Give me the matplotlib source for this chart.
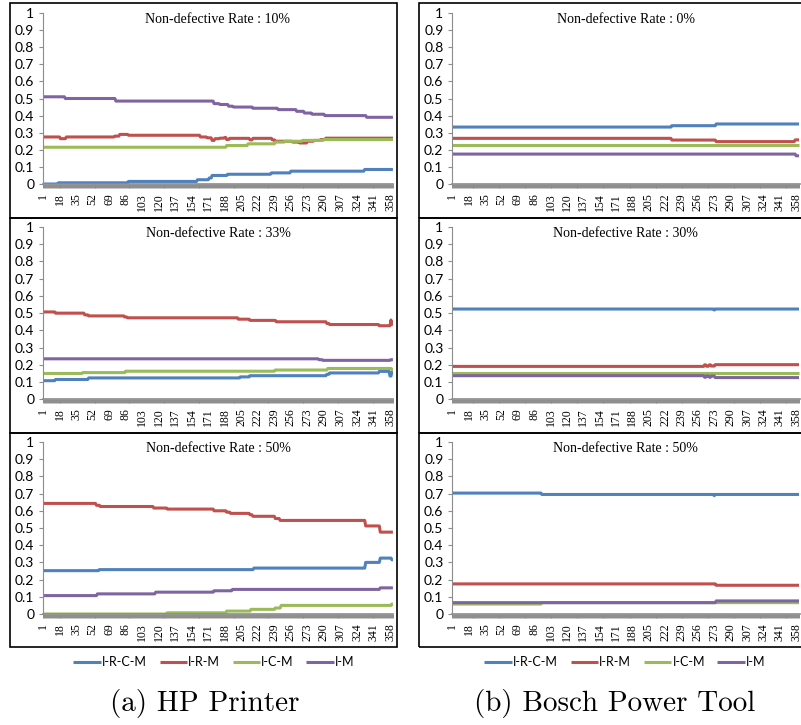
import numpy as np
import matplotlib
matplotlib.use("Agg")
import matplotlib.pyplot as plt
from matplotlib.patches import Rectangle

# ---------------------------------------------------------------------------
# Data: step series given as (start category, value) pairs
# ---------------------------------------------------------------------------
N_CAT = 361
SERIES = ["I-R-C-M", "I-R-M", "I-C-M", "I-M"]
COLORS = ["#4F81BD", "#C0504D", "#9BBB59", "#8064A2"]

# (a) HP Printer, non-defective rate 10%
hp10_rcm_x = [1, 17, 89, 160, 172, 175, 191, 236, 256, 332]
hp10_rcm_y = [0.0, 0.007, 0.015, 0.025, 0.035, 0.05, 0.057, 0.065, 0.075, 0.085]
hp10_rm_x = [1, 19, 25, 75, 80, 89, 163, 170, 175, 178, 183, 188, 190, 193, 214, 217, 237, 240, 258, 265, 273, 280, 287, 292]
hp10_rm_y = [0.275, 0.265, 0.275, 0.28, 0.29, 0.285, 0.275, 0.27, 0.255, 0.265, 0.268, 0.272, 0.26, 0.267,
             0.258, 0.267, 0.258, 0.25, 0.245, 0.24, 0.25, 0.255, 0.26, 0.268]
hp10_cm_x = [1, 190, 212, 240, 250, 268, 290]
hp10_cm_y = [0.215, 0.225, 0.235, 0.245, 0.25, 0.255, 0.26]
hp10_m_x = [1, 24, 76, 177, 183, 192, 197, 217, 243, 262, 270, 278, 291, 334]
hp10_m_y = [0.51, 0.50, 0.485, 0.47, 0.465, 0.455, 0.45, 0.443, 0.435, 0.425, 0.415, 0.408, 0.40, 0.39]

# (a) HP Printer, non-defective rate 33%
hp33_rcm_x = [1, 14, 48, 204, 214, 293, 296, 347, 358, 360]
hp33_rcm_y = [0.108, 0.115, 0.124, 0.13, 0.137, 0.145, 0.153, 0.162, 0.135, 0.16]
hp33_rm_x = [1, 14, 44, 48, 85, 88, 202, 214, 241, 293, 296, 347, 359, 360]
hp33_rm_y = [0.507, 0.50, 0.49, 0.484, 0.478, 0.473, 0.465, 0.458, 0.45, 0.44, 0.434, 0.427, 0.46, 0.435]
hp33_cm_x = [1, 42, 86, 240, 294, 360]
hp33_cm_y = [0.15, 0.155, 0.163, 0.17, 0.179, 0.172]
hp33_m_x = [1, 285, 289, 359]
hp33_m_y = [0.235, 0.23, 0.226, 0.23]

# (a) HP Printer, non-defective rate 50%
hp50_rcm_x = [1, 59, 218, 333, 348, 360]
hp50_rcm_y = [0.252, 0.258, 0.267, 0.30, 0.325, 0.315]
hp50_rm_x = [1, 56, 60, 115, 129, 177, 190, 194, 214, 217, 240, 245, 333, 348]
hp50_rm_y = [0.643, 0.632, 0.625, 0.616, 0.61, 0.60, 0.592, 0.585, 0.577, 0.568, 0.555, 0.544, 0.512, 0.476]
hp50_cm_x = [1, 129, 190, 215, 240, 246, 360]
hp50_cm_y = [0.0, 0.007, 0.017, 0.027, 0.035, 0.05, 0.058]
hp50_m_x = [1, 57, 117, 177, 196, 348]
hp50_m_y = [0.107, 0.117, 0.127, 0.135, 0.143, 0.152]

# (b) Bosch Power Tool, non-defective rate 0%
bo00_rcm_x = [1, 229, 275]
bo00_rcm_y = [0.333, 0.341, 0.351]
bo00_rm_x = [1, 229, 275, 357]
bo00_rm_y = [0.267, 0.257, 0.248, 0.258]
bo00_cm_x = [1]
bo00_cm_y = [0.226]
bo00_m_x = [1, 358]
bo00_m_y = [0.175, 0.165]

# (b) Bosch Power Tool, non-defective rate 30%
bo30_rcm_x = [1, 273, 274]
bo30_rcm_y = [0.524, 0.518, 0.524]
bo30_rm_x = [1, 263, 265, 268, 270, 274]
bo30_rm_y = [0.191, 0.20, 0.192, 0.20, 0.193, 0.201]
bo30_cm_x = [1]
bo30_cm_y = [0.151]
bo30_m_x = [1, 263, 265, 268, 270, 274]
bo30_m_y = [0.137, 0.128, 0.136, 0.128, 0.135, 0.126]

# (b) Bosch Power Tool, non-defective rate 50%
bo50_rcm_x = [1, 94, 273, 274]
bo50_rcm_y = [0.703, 0.695, 0.688, 0.695]
bo50_rm_x = [1, 275]
bo50_rm_y = [0.175, 0.167]
bo50_cm_x = [1, 94]
bo50_cm_y = [0.058, 0.066]
bo50_m_x = [1, 275]
bo50_m_y = [0.066, 0.076]

PANELS = [
    # (column, row, title, [(starts, values) per series])
    (0, 0, "Non-defective Rate : 10%", [(hp10_rcm_x, hp10_rcm_y), (hp10_rm_x, hp10_rm_y),
                                        (hp10_cm_x, hp10_cm_y), (hp10_m_x, hp10_m_y)]),
    (0, 1, "Non-defective Rate : 33%", [(hp33_rcm_x, hp33_rcm_y), (hp33_rm_x, hp33_rm_y),
                                        (hp33_cm_x, hp33_cm_y), (hp33_m_x, hp33_m_y)]),
    (0, 2, "Non-defective Rate : 50%", [(hp50_rcm_x, hp50_rcm_y), (hp50_rm_x, hp50_rm_y),
                                        (hp50_cm_x, hp50_cm_y), (hp50_m_x, hp50_m_y)]),
    (1, 0, "Non-defective Rate : 0%", [(bo00_rcm_x, bo00_rcm_y), (bo00_rm_x, bo00_rm_y),
                                       (bo00_cm_x, bo00_cm_y), (bo00_m_x, bo00_m_y)]),
    (1, 1, "Non-defective Rate : 30%", [(bo30_rcm_x, bo30_rcm_y), (bo30_rm_x, bo30_rm_y),
                                        (bo30_cm_x, bo30_cm_y), (bo30_m_x, bo30_m_y)]),
    (1, 2, "Non-defective Rate : 50%", [(bo50_rcm_x, bo50_rcm_y), (bo50_rm_x, bo50_rm_y),
                                        (bo50_cm_x, bo50_cm_y), (bo50_m_x, bo50_m_y)]),
]
CAPTIONS = ["(a) HP Printer", "(b) Bosch Power Tool"]

# ---------------------------------------------------------------------------
# Layout (pixel positions of the original figure)
# ---------------------------------------------------------------------------
W, H = 801, 725
COL_X = [(42.5, 393.4), (451.8, 799.5)]
ROW_Y = [(13, 184), (227, 399.3), (442, 614)]
BOX_X = [(10, 397), (419, 840)]
BOX_Y = [(3, 218), (218, 433), (433, 647)]
LEGEND_CX = [214, 625]
CAPTION_CX = [205, 615]

SANS = ["Lato", "DejaVu Sans"]
SERIF = ["Liberation Serif", "DejaVu Serif"]
GRAY = "#8C8C8C"


def expand(starts, values):
    cats = np.arange(1, N_CAT + 1)
    idx = np.searchsorted(np.asarray(starts), cats, side="right") - 1
    return cats, np.asarray(values)[idx]


fig = plt.figure(figsize=(W / 100, H / 100), dpi=100)

# panel frames
for (bx0, bx1) in BOX_X:
    for (by0, by1) in BOX_Y:
        fig.add_artist(Rectangle((bx0 / W, 1 - by1 / H), (bx1 - bx0) / W, (by1 - by0) / H,
                                 transform=fig.transFigure, fill=False,
                                 edgecolor="black", linewidth=1.2))

axes = {}
for col, row, title, data in PANELS:
    x0, x1 = COL_X[col]
    yt, yb = ROW_Y[row]
    ax = fig.add_axes([x0 / W, 1 - yb / H, (x1 - x0) / W, (yb - yt) / H])
    axes[(col, row)] = ax

    for (starts, values), name, color in zip(data, SERIES, COLORS):
        cats, vals = expand(starts, values)
        ax.plot(cats, vals, color=color, lw=2.2, label=name, solid_capstyle="butt")

    ax.set_xlim(0.5, N_CAT + 0.5)
    ax.set_ylim(0, 1)
    ax.set_yticks(np.arange(0, 1.01, 0.1))
    ax.set_yticklabels(["0"] + [f"{v:.1f}" for v in np.arange(0.1, 0.95, 0.1)] + ["1"],
                       family=SANS, fontsize=10)
    major = np.arange(1, N_CAT + 1, 17)
    ax.set_xticks(major)
    ax.set_xticklabels([str(m) for m in major], rotation=90, family=SERIF, fontsize=8.5)
    ax.set_xticks(np.arange(1, N_CAT + 1), minor=True)
    ax.tick_params(axis="x", which="both", direction="out", length=2.6, width=0.7,
                   color=GRAY, pad=4)
    ax.tick_params(axis="y", direction="out", length=3, width=0.8, color=GRAY, pad=3)
    for side in ("top", "right"):
        ax.spines[side].set_visible(False)
    ax.spines["left"].set_color(GRAY)
    ax.spines["bottom"].set_color(GRAY)
    ax.spines["bottom"].set_linewidth(1.2)
    ax.patch.set_alpha(0)

    ax.text(0.5, 0.94, title, transform=ax.transAxes, ha="center", va="baseline",
            family=SERIF, fontsize=10)

# legends and captions
for col in range(2):
    ax = axes[(col, 2)]
    ax.legend(loc="center", bbox_to_anchor=(LEGEND_CX[col] / W, 1 - 662 / H),
              bbox_transform=fig.transFigure, ncol=4, frameon=False,
              prop={"family": SANS, "size": 9}, handlelength=2.2, handletextpad=0.1,
              columnspacing=1.0)
    fig.text(CAPTION_CX[col] / W, 1 - 703 / H, CAPTIONS[col], ha="center", va="center",
             family="cmr10", fontsize=21)

fig.savefig("out.png", dpi=100)
